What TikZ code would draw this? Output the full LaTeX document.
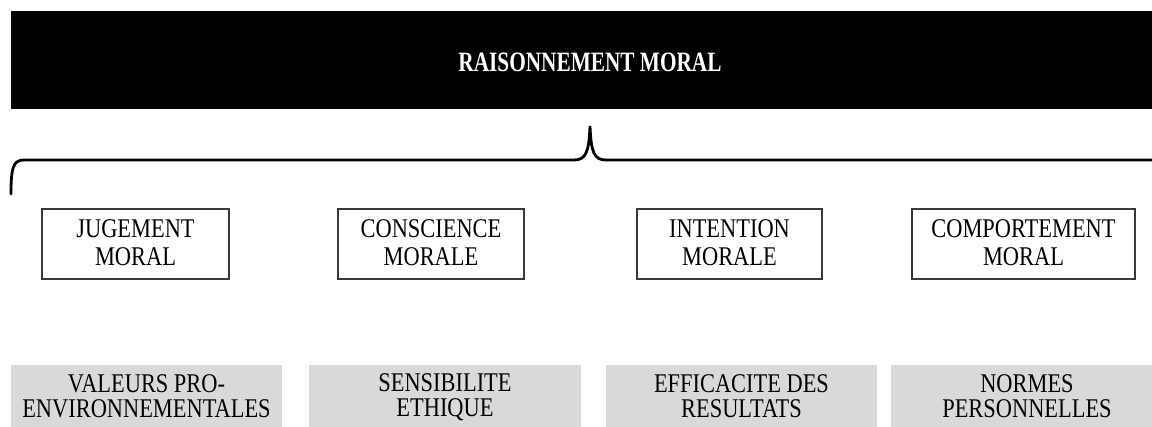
\documentclass[tikz,border=0pt]{standalone}
\usepackage{fontspec}
\setmainfont{Liberation Serif}[FakeStretch=0.83]
\newfontfamily\titlefont{Liberation Serif}[FakeStretch=0.76]
\usetikzlibrary{positioning}
\definecolor{cellgray}{HTML}{D9D9D9}
\definecolor{frame}{HTML}{3A3A3A}
\newcommand{\topstrut}{\rule{0pt}{13pt}}
\newcommand{\botstrut}{\rule[-1pt]{0pt}{1pt}}

\begin{document}
\begin{tikzpicture}[
  x=0.5pt, y=-0.5pt,
  every node/.style={font=\fontsize{13.5}{14}\selectfont, align=center, inner sep=0pt,
    execute at begin node=\topstrut, execute at end node=\botstrut},
  banner/.style={fill=black, text=white, font=\titlefont\fontsize{14}{14}\selectfont\bfseries, minimum width=579pt, minimum height=49pt},
  stage/.style={draw=frame, line width=0.8pt, minimum height=35pt},
  factor/.style={fill=cellgray, font=\fontsize{13.5}{12.5}\selectfont, minimum width=136pt, minimum height=32.5pt},
  brace/.style={line width=1.4pt, line cap=round}
]
\useasboundingbox (0,0) rectangle (1152,427);
\node[banner] (title) at (590,60) {RAISONNEMENT MORAL};
% accolade
\draw[brace] (11,194) .. controls (11,168) and (13,160) .. (24,160) -- (574,160)
  .. controls (586,160) and (589,152) .. (590,126)
  .. controls (591,152) and (594,160) .. (606,160) -- (1160,160);
\node[stage, minimum width=93.5pt] (jugement) at (135.5,244) {JUGEMENT\\MORAL};
\node[stage, minimum width=93pt] (conscience) at (431,244) {CONSCIENCE\\MORALE};
\node[stage, minimum width=92.5pt] (intention) at (729.5,244) {INTENTION\\MORALE};
\node[stage, minimum width=111.5pt] (comportement) at (1023.5,244) {COMPORTEMENT\\MORAL};
\node[factor, minimum width=135.5pt] (valeurs) at (146.5,397.5) {VALEURS PRO-\\ENVIRONNEMENTALES};
\node[factor] (sensibilite) at (445,397.5) {SENSIBILITE\\ETHIQUE};
\node[factor, minimum width=135.5pt] (efficacite) at (741.5,397.5) {EFFICACITE DES\\RESULTATS};
\node[factor] (normes) at (1027,397.5) {NORMES\\PERSONNELLES};
\end{tikzpicture}
\end{document}
